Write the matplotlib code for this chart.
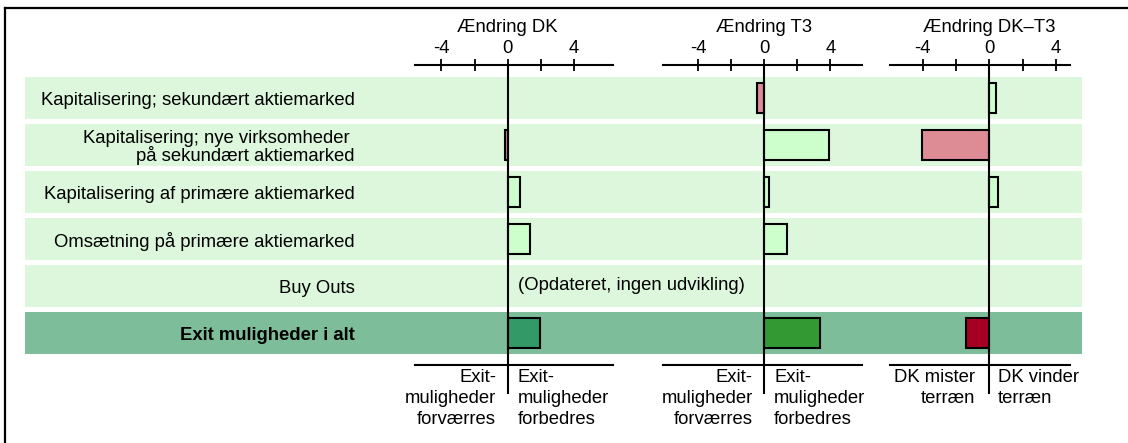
import matplotlib
matplotlib.use("Agg")
import matplotlib.pyplot as plt
import numpy as np
from matplotlib.lines import Line2D
from matplotlib.transforms import blended_transform_factory

plt.rcParams['font.family'] = ['Liberation Sans', 'DejaVu Sans']

# data
categories = ["Kapitalisering; sekundært aktiemarked",
              "Kapitalisering; nye virksomheder \npå sekundært aktiemarked",
              "Kapitalisering af primære aktiemarked",
              "Omsætning på primære aktiemarked",
              "Buy Outs",
              "Exit muligheder i alt"]
dk = [0.0, -0.15, 0.76, 1.34, np.nan, 1.96]
t3 = [-0.42, 3.93, 0.28, 1.35, np.nan, 3.37]
dk_t3 = [0.42, -4.02, 0.50, 0.0, np.nan, -1.38]
panel_titles = ["Ændring DK", "Ændring T3", "Ændring DK\u2013T3"]
major_ticks = [-4, 0, 4]
minor_ticks = [-2, 2]
neg_labels = ["Exit-\nmuligheder\nforværres", "Exit-\nmuligheder\nforværres", "DK mister\nterræn"]
pos_labels = ["Exit-\nmuligheder\nforbedres", "Exit-\nmuligheder\nforbedres", "DK vinder\nterræn"]
total_colors = ["#339966", "#339933", "#A50021"]
note = "(Opdateret, ingen udvikling)"

W, H = 1128, 443
fig = plt.figure(figsize=(W / 100, H / 100), dpi=100)
fs = 13.3

# vertical layout (pixels): axis line on top, plain line at bottom
y_top, y_bot = 65, 365
row0, row_step = 98, 47
ylim = ((y_bot - row0) / row_step, (y_top - row0) / row_step)
rows = np.arange(len(categories))

# background bands + category labels
bg = fig.add_axes([0, 1 - y_bot / H, 1, (y_bot - y_top) / H])
bg.set_xlim(0, W)
bg.set_ylim(*ylim)
bg.axis('off')
for i in rows:
    col = "#7DBD9A" if i == len(categories) - 1 else "#DCF7DC"
    bg.axhspan(i - 0.447, i + 0.447, xmin=25 / W, xmax=1082 / W, color=col, lw=0)
    bold = 'bold' if i == len(categories) - 1 else 'normal'
    bg.text(355, i + 0.05, categories[i], ha='right', va='center', fontsize=fs,
            fontweight=bold, linespacing=0.95)

# panels: (left px, right px, zero px, px per unit)
panels = [(415, 613, 507.7, 16.6), (663, 862, 764.3, 16.5), (890, 1070, 989.3, 16.7)]
series = [dk, t3, dk_t3]

for k, (l, r, z, s) in enumerate(panels):
    ax = fig.add_axes([l / W, 1 - y_bot / H, (r - l) / W, (y_bot - y_top) / H])
    ax.set_xlim((l - z) / s, (r - z) / s)
    ax.set_ylim(*ylim)
    ax.patch.set_visible(False)
    vals = np.array(series[k], dtype=float)
    cols = []
    for i, v in enumerate(vals):
        if i == len(vals) - 1:
            cols.append(total_colors[k])
        elif v < 0:
            cols.append("#DD8C96")
        else:
            cols.append("#CCFFCC")
    m = ~np.isnan(vals) & (vals != 0)
    ax.barh(rows[m], vals[m], height=0.64, color=np.array(cols)[m],
            edgecolor='black', linewidth=1.5)
    ax.axvline(0, ymin=-28 / (y_bot - y_top), ymax=1, color='black', lw=1.5, clip_on=False)

    for side in ['left', 'right']:
        ax.spines[side].set_visible(False)
    ax.spines['top'].set_linewidth(1.5)
    ax.spines['bottom'].set_linewidth(1.5)
    ax.xaxis.tick_top()
    ax.set_xticks(major_ticks)
    ax.set_xticks(minor_ticks, minor=True)
    ax.set_xticklabels([str(t) for t in major_ticks])
    ax.tick_params(axis='x', which='both', direction='inout', length=8, width=1.3,
                   labelsize=fs, pad=2)
    ax.set_yticks([])

    tr = blended_transform_factory(ax.transData, ax.transAxes)
    ax.text(0, (y_bot - 28) / (y_bot - y_top), panel_titles[k], transform=tr,
            ha='center', va='center', fontsize=fs)
    nx = -0.7 if k < 2 else -0.86
    px = 0.6 if k < 2 else 0.5
    ax.text(nx, -4 / (y_bot - y_top), neg_labels[k], transform=tr, ha='right', va='top',
            fontsize=fs, linespacing=1.3)
    ax.text(px, -4 / (y_bot - y_top), pos_labels[k], transform=tr, ha='left', va='top',
            fontsize=fs, linespacing=1.3)
    if k == 0:
        ax.text(0.62, 4, note, ha='left', va='center', fontsize=fs, clip_on=False)

# frame lines at top and left
fig.add_artist(Line2D([4.5 / W, 4.5 / W], [0, 1 - 8 / H], color='black', lw=1.6))
fig.add_artist(Line2D([4.5 / W, 1], [1 - 8 / H, 1 - 8 / H], color='black', lw=1.6))

fig.savefig("out.png", dpi=100)
